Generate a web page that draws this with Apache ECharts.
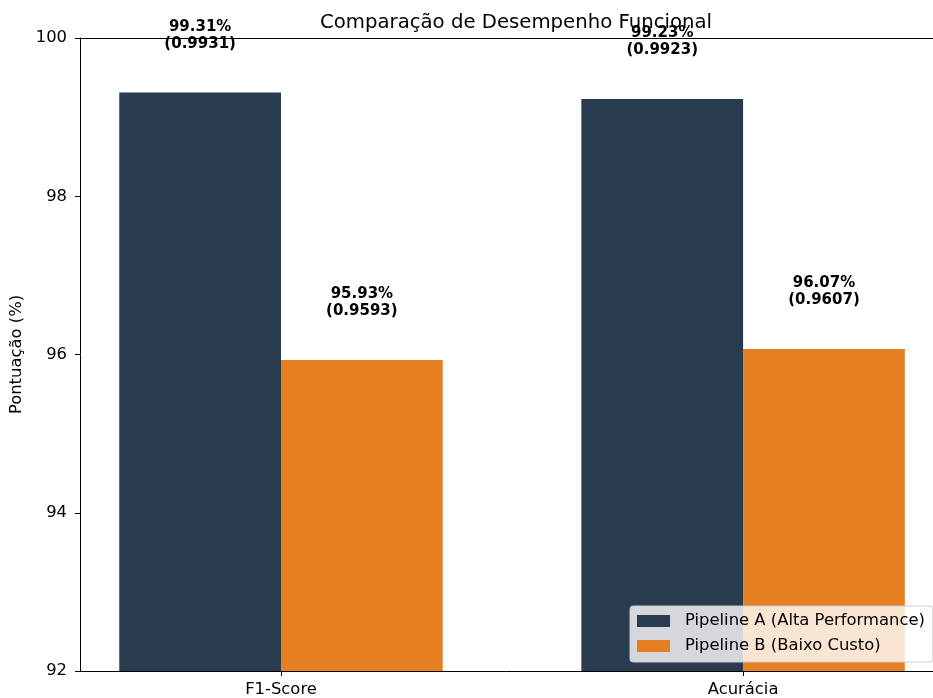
<!DOCTYPE html>
<html>
<head>
<meta charset="utf-8">
<script src="https://cdn.jsdelivr.net/npm/echarts@6/dist/echarts.min.js"></script>
<style>
    html, body { margin: 0; padding: 0; background: #fff; }
    #chart { width: 933px; height: 698px; }
</style>
</head>
<body>
<div id="chart"></div>
<script>
// metric names and scores (%)
const categories = ["F1-Score", "Acurácia"];
const pipelineA = [99.31, 99.23];
const pipelineB = [95.93, 96.07];
const seriesNames = ["Pipeline A (Alta Performance)", "Pipeline B (Baixo Custo)"];
const yTicks = [92, 94, 96, 98, 100];

const font = "DejaVu Sans";
const fs = 16.4;

const toPoints = (vals) => vals.map((v, i) => [i, v]);

const barLabel = {
    show: true,
    position: "top",
    distance: 40,
    fontFamily: font,
    fontWeight: "bold",
    fontSize: 15,
    lineHeight: 17,
    color: "#000",
    formatter: (p) => `${p.value[1].toFixed(2)}%\n(${(p.value[1] / 100).toFixed(4)})`,
};

const chart = echarts.init(document.getElementById("chart"));
chart.setOption({
    animation: false,
    title: {
        text: "Comparação de Desempenho Funcional",
        left: 511,
        textAlign: "center",
        top: 8,
        textStyle: { fontFamily: font, fontWeight: "normal", fontSize: 19.7, color: "#000" },
    },
    grid: {
        left: 80,
        right: 0,
        top: 38,
        bottom: 27,
    },
    legend: {
        data: seriesNames,
        left: 630,
        top: 606,
        orient: "vertical",
        align: "left",
        icon: "rect",
        itemWidth: 33,
        itemHeight: 12,
        itemGap: 7,
        padding: [6, 8, 7, 7],
        backgroundColor: "rgba(255,255,255,0.8)",
        borderColor: "#ccc",
        borderWidth: 1,
        borderRadius: 3,
        textStyle: { fontFamily: font, fontSize: fs, lineHeight: 18, color: "#000", padding: [0, 0, 0, 10] },
        itemStyle: { borderWidth: 0 },
    },
    xAxis: [
        {
            type: "value",
            min: -0.435,
            max: 1.411,
            splitLine: { show: false },
            axisLine: { show: true, onZero: false, lineStyle: { color: "#000", width: 1 } },
            axisTick: { show: true, length: 5, customValues: [0, 1], lineStyle: { color: "#000" } },
            axisLabel: {
                customValues: [0, 1],
                formatter: (v) => categories[Math.round(v)] || "",
                fontFamily: font,
                fontSize: fs,
                color: "#000",
                margin: 11,
            },
        },
        {
            // top spine
            type: "value",
            position: "top",
            min: -0.435,
            max: 1.411,
            splitLine: { show: false },
            axisLine: { show: true, onZero: false, lineStyle: { color: "#000", width: 1 } },
            axisTick: { show: false },
            axisLabel: { show: false },
        },
    ],
    yAxis: {
        type: "value",
        min: 92,
        max: 100,
        interval: 2,
        name: "Pontuação (%)",
        nameLocation: "middle",
        nameGap: 51,
        nameTextStyle: { fontFamily: font, fontSize: fs, color: "#000" },
        splitLine: { show: false },
        axisLine: { show: true, onZero: false, lineStyle: { color: "#000", width: 1 } },
        axisTick: { show: true, length: 5, lineStyle: { color: "#000" } },
        axisLabel: {
            fontFamily: font,
            fontSize: fs,
            color: "#000",
            margin: 13,
            formatter: (v) => (yTicks.includes(v) ? String(v) : ""),
        },
    },
    series: [
        {
            name: seriesNames[0],
            type: "bar",
            data: toPoints(pipelineA),
            barWidth: "35%",
            barGap: "0%",
            itemStyle: { color: "#283b4f" },
            label: barLabel,
        },
        {
            name: seriesNames[1],
            type: "bar",
            data: toPoints(pipelineB),
            barWidth: "35%",
            barGap: "0%",
            itemStyle: { color: "#e67e22" },
            label: barLabel,
        },
    ],
});
</script>
</body>
</html>
